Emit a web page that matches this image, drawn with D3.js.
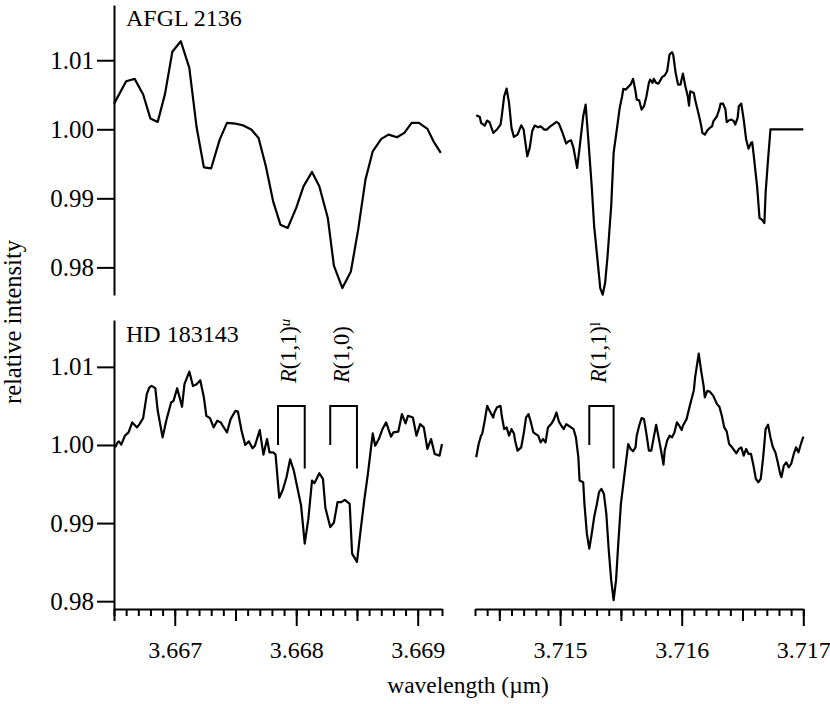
<!DOCTYPE html>
<html><head><meta charset="utf-8">
<script src="https://cdn.jsdelivr.net/npm/d3@7"></script>
<style>
body{margin:0;background:#fff}
svg{display:block}
text{font-family:"Liberation Serif","Times New Roman",serif;fill:#000}
</style>
</head><body>
<svg id="c" width="830" height="704"></svg>
<script>
// ---------- data ----------
const panelLabels = ["AFGL 2136", "HD 183143"];
const leftDomain = [3.6665, 3.6692];
const rightDomain = [3.7143, 3.7170];
const topYDomain = [0.976, 1.018];
const bottomYDomain = [0.979, 1.016];
const yTicks = [0.98, 0.99, 1.00, 1.01];
const leftMajorTicks = [3.667, 3.668, 3.669];
const rightMajorTicks = [3.715, 3.716, 3.717];
const xLabel = "wavelength (µm)";
const yLabel = "relative intensity";

// AFGL 2136, left window
const afglLeftWl = [3.66650,3.66660,3.66667,3.66674,3.66680,3.66686,3.66692,3.66698,3.66705,3.66712,3.66718,3.66724,3.66730,3.66737,3.66743,3.66750,3.66756,3.66763,3.66769,3.66775,3.66781,3.66787,3.66793,3.66800,3.66806,3.66813,3.66819,3.66826,3.66831,3.66838,3.66845,3.66851,3.66857,3.66863,3.66870,3.66876,3.66883,3.66889,3.66895,3.66901,3.66908,3.66913,3.66919];
const afglLeftI = [1.00368,1.00696,1.00730,1.00503,1.00155,1.00107,1.00513,1.01122,1.01275,1.00890,1.00029,0.99449,0.99435,0.99851,1.00093,1.00083,1.00058,0.99996,0.99875,0.99464,0.98957,0.98619,0.98571,0.98861,0.99174,0.99383,0.99174,0.98716,0.98025,0.97701,0.97942,0.98546,0.99271,0.99681,0.99861,0.99923,0.99884,0.99948,1.00093,1.00093,1.00006,0.99826,0.99658];

// AFGL 2136, right window
const afglRightWl = [3.71431,3.71434,3.71435,3.71438,3.71440,3.71442,3.71445,3.71448,3.71451,3.71452,
3.71454,3.71456,3.71458,3.71460,3.71462,3.71465,3.71468,3.71470,3.71473,3.71475,
3.71477,3.71479,3.71482,3.71484,3.71487,3.71489,3.71492,3.71494,3.71497,3.71499,
3.71502,3.71505,3.71507,3.71509,3.71511,3.71514,3.71516,3.71519,3.71521,3.71523,
3.71526,3.71528,3.71531,3.71533,3.71535,3.71537,3.71539,3.71542,3.71544,3.71547,
3.71549,3.71551,3.71552,3.71554,3.71556,3.71558,3.71560,3.71562,3.71563,3.71565,
3.71567,3.71569,3.71571,3.71573,3.71574,3.71576,3.71577,3.71579,3.71581,3.71584,
3.71586,3.71588,3.71589,3.71590,3.71592,3.71593,3.71595,3.71597,3.71599,3.71601,
3.71603,3.71605,3.71606,3.71607,3.71610,3.71611,3.71613,3.71614,3.71616,3.71617,
3.71619,3.71621,3.71623,3.71625,3.71626,3.71629,3.71631,3.71632,3.71634,3.71636,
3.71637,3.71639,3.71641,3.71643,3.71644,3.71646,3.71647,3.71649,3.71651,3.71653,
3.71655,3.71657,3.71658,3.71659,3.71662,3.71664,3.71666,3.71668,3.71669,3.71671,
3.71673,3.71700];
const afglRightI = [1.00203,1.00179,1.00092,1.00054,1.00126,1.00102,0.99947,0.99996,1.00068,1.00189,
1.00479,1.00590,1.00382,1.00020,0.99889,0.99923,1.00058,0.99996,0.99609,0.99730,
0.99971,1.00054,1.00029,1.00044,0.99996,0.99996,1.00044,1.00068,1.00107,1.00083,
0.99947,0.99793,0.99827,0.99841,0.99730,0.99440,0.99730,1.00189,1.00358,0.99899,
0.99174,0.98595,0.98063,0.97701,0.97604,0.97773,0.98160,0.98885,0.99657,1.00044,
1.00310,1.00479,1.00585,1.00575,1.00614,1.00648,1.00730,1.00551,1.00430,1.00421,
1.00286,1.00334,1.00479,1.00672,1.00720,1.00672,1.00730,1.00672,1.00662,1.00759,
1.00778,1.00841,1.00962,1.01083,1.01116,1.01083,1.00817,1.00648,1.00648,1.00807,
1.00624,1.00479,1.00343,1.00551,1.00527,1.00430,1.00286,1.00213,1.00054,0.99947,
0.99923,0.99981,1.00020,1.00044,1.00116,1.00189,1.00295,1.00372,1.00372,1.00286,
1.00102,1.00131,1.00141,1.00116,1.00068,1.00165,1.00334,1.00372,1.00141,0.99851,
0.99720,0.99802,0.99812,0.99657,0.99174,0.98715,0.98691,0.98643,0.99078,0.99561,
1.00000,1.00000];

// HD 183143, left window
const hdLeftWl = [3.66651,3.66653,3.66654,3.66656,3.66659,3.66662,3.66665,3.66669,3.66671,3.66674,
3.66677,3.66679,3.66681,3.66684,3.66686,3.66690,3.66693,3.66697,3.66699,3.66702,
3.66706,3.66708,3.66712,3.66715,3.66718,3.66721,3.66724,3.66726,3.66729,3.66732,
3.66735,3.66738,3.66739,3.66743,3.66746,3.66750,3.66752,3.66755,3.66758,3.66761,
3.66764,3.66766,3.66770,3.66773,3.66776,3.66778,3.66781,3.66783,3.66786,3.66789,
3.66792,3.66795,3.66798,3.66800,3.66804,3.66807,3.66810,3.66813,3.66815,3.66819,
3.66822,3.66824,3.66828,3.66831,3.66834,3.66837,3.66840,3.66844,3.66846,3.66850,
3.66853,3.66856,3.66859,3.66863,3.66865,3.66868,3.66871,3.66874,3.66878,3.66880,
3.66884,3.66887,3.66890,3.66892,3.66896,3.66899,3.66902,3.66905,3.66908,3.66911,
3.66914,3.66918,3.66920];
const hdLeftI = [0.99970,1.00034,1.00046,1.00004,1.00119,1.00161,1.00289,1.00225,1.00267,1.00344,
1.00650,1.00735,1.00756,1.00727,1.00438,1.00097,1.00310,1.00544,1.00565,1.00727,
1.00489,1.00778,1.00939,1.00756,1.00778,1.00829,1.00608,1.00374,1.00344,1.00225,
1.00310,1.00289,1.00259,1.00161,1.00331,1.00438,1.00429,1.00182,1.00000,1.00046,
0.99957,0.99991,1.00191,0.99876,1.00076,0.99906,0.99906,0.99876,0.99324,0.99426,
0.99587,0.99817,0.99672,0.99523,0.99226,0.98737,0.99056,0.99545,0.99511,0.99638,
0.99566,0.99196,0.98949,0.99005,0.99268,0.99268,0.99298,0.99247,0.98609,0.98503,
0.98907,0.99290,0.99630,1.00148,0.99991,1.00076,1.00204,1.00289,1.00106,1.00161,
1.00170,1.00395,1.00276,1.00374,1.00352,1.00119,1.00267,1.00225,0.99949,1.00076,
0.99885,0.99864,1.00012];

// HD 183143, right window
const hdRightWl = [3.71431,3.71433,3.71435,3.71436,3.71438,3.71440,3.71442,3.71445,3.71446,3.71448,
3.71451,3.71452,3.71454,3.71456,3.71458,3.71460,3.71462,3.71463,3.71465,3.71468,
3.71470,3.71472,3.71474,3.71476,3.71478,3.71480,3.71482,3.71484,3.71486,3.71488,
3.71490,3.71493,3.71495,3.71497,3.71499,3.71501,3.71503,3.71505,3.71507,3.71509,
3.71511,3.71513,3.71515,3.71516,3.71519,3.71520,3.71522,3.71524,3.71526,3.71528,
3.71530,3.71532,3.71534,3.71536,3.71538,3.71540,3.71542,3.71544,3.71546,3.71548,
3.71550,3.71552,3.71554,3.71556,3.71558,3.71560,3.71562,3.71563,3.71565,3.71567,
3.71569,3.71571,3.71573,3.71575,3.71577,3.71579,3.71581,3.71584,3.71585,3.71586,
3.71588,3.71590,3.71592,3.71594,3.71596,3.71598,3.71600,3.71601,3.71604,3.71605,
3.71607,3.71610,3.71611,3.71614,3.71616,3.71618,3.71619,3.71621,3.71623,3.71626,
3.71629,3.71631,3.71633,3.71635,3.71637,3.71639,3.71641,3.71643,3.71645,3.71647,
3.71649,3.71651,3.71653,3.71655,3.71657,3.71659,3.71661,3.71663,3.71665,3.71667,
3.71669,3.71671,3.71673,3.71675,3.71677,3.71679,3.71681,3.71682,3.71684,3.71686,
3.71688,3.71690,3.71692,3.71694,3.71696,3.71698,3.71700];
const hdRightI = [0.99842,1.00012,1.00119,1.00148,1.00310,1.00501,1.00438,1.00352,1.00416,1.00480,
1.00501,1.00374,1.00204,1.00225,1.00119,1.00204,1.00148,1.00055,0.99927,0.99970,
1.00140,1.00352,1.00395,1.00289,1.00161,1.00140,1.00119,1.00034,1.00076,1.00034,
1.00225,1.00276,1.00331,1.00416,1.00301,1.00246,1.00204,1.00267,1.00246,1.00225,
1.00204,1.00097,0.99842,0.99545,0.99523,0.99247,0.98864,0.98673,0.98864,0.99077,
0.99226,0.99396,0.99438,0.99375,0.99119,0.98652,0.98269,0.98014,0.98269,0.98779,
0.99247,0.99502,0.99757,1.00012,0.99949,0.99919,0.99970,1.00119,1.00246,1.00344,
1.00331,1.00140,0.99927,0.99927,1.00097,1.00259,1.00097,0.99842,0.99749,0.99927,
1.00055,1.00119,1.00097,1.00161,1.00289,1.00246,1.00191,1.00246,1.00331,1.00395,
1.00523,1.00701,1.00863,1.01169,1.00948,1.00756,1.00608,1.00693,1.00684,1.00629,
1.00523,1.00489,1.00374,1.00225,1.00174,1.00012,0.99978,0.99936,0.99893,0.99949,
0.99970,0.99864,0.99949,0.99885,0.99885,0.99736,0.99566,0.99523,0.99566,0.99842,
1.00204,1.00259,1.00097,0.99970,0.99906,0.99778,0.99630,0.99587,0.99736,0.99778,
0.99715,0.99757,0.99876,0.99970,0.99906,1.00012,1.00106];

// line identifications (HD 183143): wavelengths of bracket legs
const lineLabels = ["R(1,1)", "R(1,0)", "R(1,1)"];
const lineSups   = ["u", "", "l"];
const lineLo     = [3.66785, 3.66828, 3.71524];
const lineHi     = [3.66807, 3.66850, 3.71544];
const linePanel  = ["left", "left", "right"];
const bracketLevels = [1.000, 1.005, 0.997]; // left leg bottom, top, right leg bottom

// ---------- drawing ----------
const svg = d3.select("#c");
const FONT = '"Liberation Serif","Times New Roman",serif';
const SW = 2.2;

const xL = d3.scaleLinear().domain(leftDomain).range([114, 442]);
const xR = d3.scaleLinear().domain(rightDomain).range([475, 803.3]);
const yT = d3.scaleLinear().domain(topYDomain).range([295, 5]);
const yB = d3.scaleLinear().domain(bottomYDomain).range([609, 320]);

function drawLine(wl, I, x, y) {
  const line = d3.line().x(d => x(d[0])).y(d => y(d[1]));
  svg.append("path").datum(d3.zip(wl, I))
    .attr("d", line).attr("fill", "none").attr("stroke", "#000")
    .attr("stroke-width", SW).attr("stroke-linejoin", "round");
}
drawLine(afglLeftWl, afglLeftI, xL, yT);
drawLine(afglRightWl, afglRightI, xR, yT);
drawLine(hdLeftWl, hdLeftI, xL, yB);
drawLine(hdRightWl, hdRightI, xR, yB);

function styleAxis(g, fs) {
  g.attr("font-family", FONT).attr("font-size", fs);
  g.selectAll("path,line").attr("stroke", "#000").attr("stroke-width", 2);
  g.selectAll("text").attr("fill", "#000");
}

// y axes
[yT, yB].forEach(y => {
  const g = svg.append("g").attr("transform", "translate(114,0)")
    .call(d3.axisLeft(y).tickValues(yTicks).tickFormat(d3.format(".2f"))
      .tickSize(17).tickSizeOuter(0).tickPadding(3));
  styleAxis(g, 25);
});

// x axes (minor, half, major)
function xAxis(x, majors) {
  const [a, b] = x.domain();
  const minors = d3.range(Math.round(a * 10000), Math.round(b * 10000) + 1).map(v => v / 10000);
  const halves = minors.filter(v => Math.abs(v * 2000 - Math.round(v * 2000)) < 1e-6 && !majors.some(m => Math.abs(m - v) < 1e-7));
  const gMin = svg.append("g").attr("transform", "translate(0,609)")
    .call(d3.axisBottom(x).tickValues(minors).tickFormat("").tickSize(7).tickSizeOuter(0));
  gMin.select(".domain").remove();
  styleAxis(gMin, 24);
  const gHalf = svg.append("g").attr("transform", "translate(0,609)")
    .call(d3.axisBottom(x).tickValues(halves).tickFormat("").tickSize(12).tickSizeOuter(0));
  gHalf.select(".domain").remove();
  styleAxis(gHalf, 24);
  const gMaj = svg.append("g").attr("transform", "translate(0,609)")
    .call(d3.axisBottom(x).tickValues(majors).tickFormat(d3.format(".3f"))
      .tickSize(17).tickSizeOuter(0).tickPadding(15));
  styleAxis(gMaj, 24);
}
xAxis(xL, leftMajorTicks);
xAxis(xR, rightMajorTicks);

// panel labels
svg.append("text").attr("x", 126).attr("y", 26).attr("font-size", 24).text(panelLabels[0]);
svg.append("text").attr("x", 126).attr("y", 342).attr("font-size", 24).text(panelLabels[1]);

// axis titles
svg.append("text").attr("x", 468).attr("y", 693).attr("text-anchor", "middle")
  .attr("font-size", 23.5).text(xLabel);
svg.append("text").attr("transform", "translate(21,322) rotate(-90)")
  .attr("text-anchor", "middle").attr("font-size", 24.5).text(yLabel);

// line identification brackets
lineLabels.forEach((lab, i) => {
  const x = linePanel[i] === "left" ? xL : xR;
  const x0 = x(lineLo[i]), x1 = x(lineHi[i]);
  svg.append("path")
    .attr("d", `M${x0},${yB(bracketLevels[0])}V${yB(bracketLevels[1])}H${x1}V${yB(bracketLevels[2])}`)
    .attr("fill", "none").attr("stroke", "#000").attr("stroke-width", 2);
  const tx = (x0 + x1) / 2 + 5;
  const t = svg.append("text").attr("transform", `translate(${tx},383) rotate(-90)`)
    .attr("font-size", 22.5);
  t.append("tspan").attr("font-style", "italic").text(lab[0]);
  t.append("tspan").text(lab.slice(1));
  if (lineSups[i]) {
    t.append("tspan").attr("dy", "-0.45em").attr("font-size", 15)
      .attr("font-style", lineSups[i] === "u" ? "italic" : "normal").text(lineSups[i]);
  }
});
</script>
</body></html>
